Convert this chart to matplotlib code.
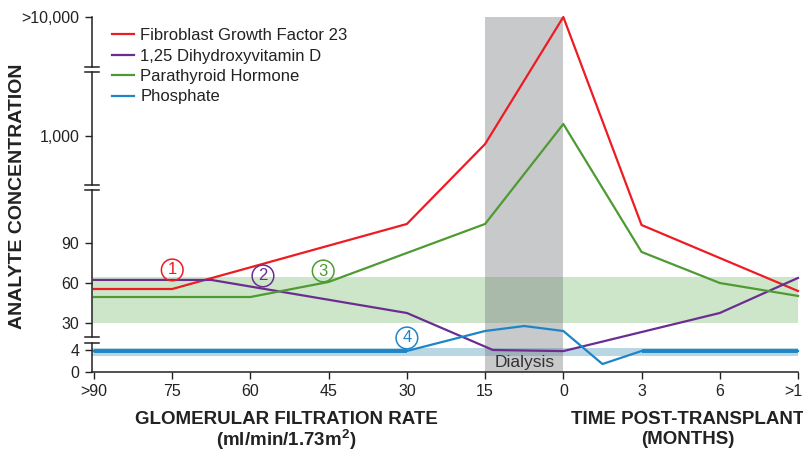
import numpy as np
import matplotlib
matplotlib.use("Agg")
import matplotlib.pyplot as plt
from matplotlib import transforms
from matplotlib.ticker import NullLocator

plt.rcParams['font.family'] = ['Liberation Sans', 'DejaVu Sans']
plt.rcParams['mathtext.fontset'] = 'custom'
plt.rcParams['mathtext.rm'] = 'Liberation Sans'
plt.rcParams['mathtext.bf'] = 'Liberation Sans:bold'

# ---------------- data ----------------
x_tick_labels = ['>90', '75', '60', '45', '30', '15', '0', '3', '6', '>12']
y_tick_values = [0, 4, 30, 60, 90, 1000, 10000]
y_tick_labels = ['0', '4', '30', '60', '90', '1,000', '>10,000']

fgf23_x = [0, 1, 4, 5, 6, 7, 9]
fgf23_y = [55.5, 55.5, 252, 932, 10000, 243, 54]

vitd_x = [0, 1.5, 4, 5.1, 6, 8, 9]
vitd_y = [62.3, 62.3, 37.5, 4.0, 3.8, 37.5, 63.8]

pth_x = [0, 1, 2, 3, 5, 6, 7, 8, 9]
pth_y = [49.5, 49.5, 49.5, 60.8, 252, 1908, 83.3, 60, 50.3]

phos_x = [0, 4, 5, 5.5, 6, 6.5, 7, 9]
phos_y = [3.82, 3.82, 22.3, 27.1, 22.3, 1.45, 3.82, 3.82]
phos_base = 3.82

pth_band = (30, 64.5)
phos_band = (2.9, 5.9)
dialysis_span = (5, 6)

series_names = ['Fibroblast Growth Factor 23', '1,25 Dihydroxyvitamin D',
                'Parathyroid Hormone', 'Phosphate']
colors = ['#ed1c24', '#6b2d90', '#4e9a33', '#1e85c6']

markers_txt = ['1', '2', '3', '4']
markers_x = [1.0, 2.16, 2.93, 4.0]
markers_y = [69.8, 65.3, 69.0, 15.6]

# piecewise axis (value -> position)
knot_vals = [0, 4, 30, 90, 1000, 10000]
knot_pos = [0, 22, 49, 129, 236, 355]


def fwd(v):
    return np.interp(v, knot_vals, knot_pos)


def inv(p):
    return np.interp(p, knot_pos, knot_vals)


W, H = 804, 451
fig = plt.figure(figsize=(W / 100, H / 100), dpi=100)
ax = fig.add_axes([92 / W, 1 - 372 / H, (798 - 92) / W, (372 - 17) / H])
ax.set_yscale('function', functions=(fwd, inv))
ax.set_ylim(0, 10000)
ax.set_xlim(-2 / 78.2, 9)

# bands
ax.axhspan(*pth_band, color='#cde6c9', lw=0, zorder=1)
ax.axhspan(*phos_band, color='#b9d6e3', lw=0, zorder=1)
ax.axvspan(*dialysis_span, color='#76787c', alpha=0.4, lw=0, zorder=2)

lw = 1.6
ax.plot(fgf23_x, fgf23_y, color=colors[0], lw=lw, zorder=4, label=series_names[0], clip_on=False)
ax.plot(vitd_x, vitd_y, color=colors[1], lw=lw, zorder=4, label=series_names[1], clip_on=False)
ax.plot(pth_x, pth_y, color=colors[2], lw=lw, zorder=4, label=series_names[2], clip_on=False)
ax.plot(phos_x, phos_y, color=colors[3], lw=lw, zorder=4, label=series_names[3], clip_on=False)
phos_arr = np.array(phos_y)
flat = np.where(np.isclose(phos_arr, phos_base), phos_arr, np.nan)
ax.plot(phos_x, flat, color=colors[3], lw=2.8, zorder=4, solid_capstyle='butt')

# circled numbers
for t, xx, yy, c in zip(markers_txt, markers_x, markers_y, colors):
    ax.text(xx, yy, t, color=c, fontsize=12, ha='center', va='center', zorder=5,
            bbox=dict(boxstyle='circle,pad=0.2', fc='none', ec=c, lw=1.1))

ax.text(sum(dialysis_span) / 2, inv(10), 'Dialysis', fontsize=12.5, color='#333333',
        ha='center', va='center', zorder=5)

# axes styling
ax.set_xticks(range(len(x_tick_labels)))
ax.set_xticklabels(x_tick_labels, fontsize=11.5)
ax.set_yticks(y_tick_values)
ax.set_yticklabels(y_tick_labels, fontsize=11.5)
ax.yaxis.set_minor_locator(NullLocator())
ax.tick_params(axis='both', direction='out', length=5, width=1, color='#222222',
               labelcolor='#222222', pad=4)
for s in ['top', 'right', 'left']:
    ax.spines[s].set_visible(False)
ax.spines['bottom'].set_linewidth(1.1)
ax.spines['bottom'].set_color('#222222')

# broken left spine
trans = transforms.blended_transform_factory(ax.transAxes, ax.transData)
breaks_pos = [(29, 35), (182, 187), (300, 305)]
seg_edges = [0] + [p for b in breaks_pos for p in b] + [355]
for i in range(0, len(seg_edges), 2):
    ax.plot([0, 0], [inv(seg_edges[i]), inv(seg_edges[i + 1])], transform=trans,
            color='#222222', lw=1.1, clip_on=False, zorder=6)
for b in breaks_pos:
    for p in b:
        ax.plot([-7 / 706, 7 / 706], [inv(p), inv(p)], transform=trans,
                color='#222222', lw=1.1, clip_on=False, zorder=6)

leg = ax.legend(loc='upper left', bbox_to_anchor=(112 / W, 1 - 28 / H),
                bbox_transform=fig.transFigure, frameon=False, fontsize=12,
                handlelength=1.3, handletextpad=0.4, labelspacing=0.33,
                borderpad=0, borderaxespad=0)
for txt in leg.get_texts():
    txt.set_color('#222222')

# axis titles
fig.text(18 / W, 1 - 196 / H, 'ANALYTE CONCENTRATION', rotation=90, fontsize=14,
         fontweight='bold', ha='center', va='center', color='#222222')
fig.text(286 / W, 1 - 419 / H, 'GLOMERULAR FILTRATION RATE', fontsize=13.5,
         fontweight='bold', ha='center', va='center', color='#222222')
fig.text(286 / W, 1 - 440 / H, r'(ml/min/1.73m$^{\mathbf{2}}$)', fontsize=13.5,
         fontweight='bold', ha='center', va='center', color='#222222')
fig.text(688 / W, 1 - 419 / H, 'TIME POST-TRANSPLANT', fontsize=13.5,
         fontweight='bold', ha='center', va='center', color='#222222')
fig.text(688 / W, 1 - 440 / H, '(MONTHS)', fontsize=13.5,
         fontweight='bold', ha='center', va='center', color='#222222')

fig.savefig('out.png', dpi=100)
